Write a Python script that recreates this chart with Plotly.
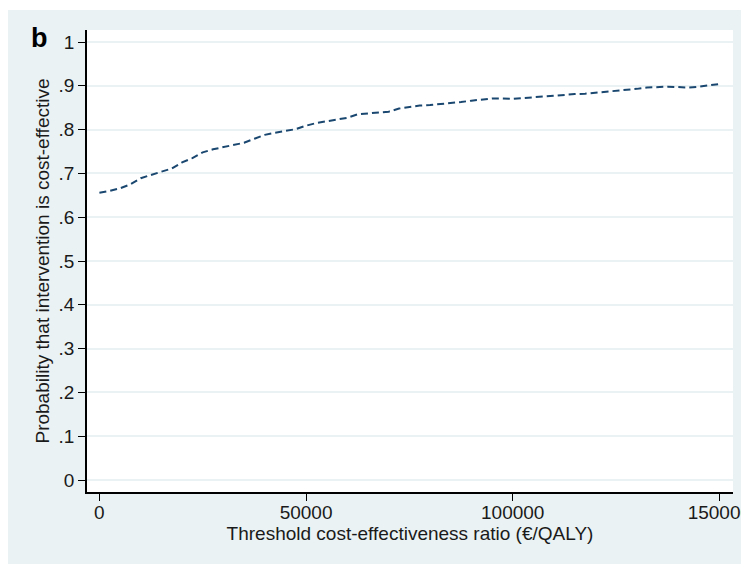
import plotly.graph_objects as go

threshold = [0, 2500, 5000, 7500, 10000, 12500, 15000, 17500, 20000, 22500, 25000, 27500,
             30000, 32500, 35000, 37500, 40000, 42500, 45000, 47500, 50000, 52500, 55000,
             57500, 60000, 62500, 65000, 67500, 70000, 72500, 75000, 77500, 80000, 82500,
             85000, 87500, 90000, 92500, 95000, 97500, 100000, 102500, 105000, 107500,
             110000, 112500, 115000, 117500, 120000, 122500, 125000, 127500, 130000,
             132500, 135000, 137500, 140000, 142500, 145000, 147500, 150000]
prob = [0.656, 0.660, 0.666, 0.675, 0.689, 0.697, 0.704, 0.711, 0.725, 0.735, 0.748, 0.755,
        0.760, 0.764, 0.770, 0.779, 0.788, 0.793, 0.797, 0.801, 0.809, 0.815, 0.819,
        0.823, 0.827, 0.835, 0.837, 0.839, 0.841, 0.848, 0.852, 0.855, 0.856, 0.858,
        0.860, 0.863, 0.866, 0.869, 0.871, 0.871, 0.870, 0.872, 0.874, 0.875,
        0.877, 0.880, 0.881, 0.882, 0.884, 0.887, 0.889, 0.891, 0.893,
        0.896, 0.897, 0.898, 0.897, 0.896, 0.898, 0.901, 0.904]

y_tickvals = [0, 0.1, 0.2, 0.3, 0.4, 0.5, 0.6, 0.7, 0.8, 0.9, 1.0]
y_ticktext = ["0", ".1", ".2", ".3", ".4", ".5", ".6", ".7", ".8", ".9", "1"]
x_tickvals = [0, 50000, 100000, 150000]
x_ticktext = ["0", "50000", "100000", "150000"]

FONT = "Liberation Sans, Arial, sans-serif"
BG = "#EAF2F3"

fig = go.Figure()
fig.add_trace(go.Scatter(
    x=threshold, y=prob, mode="lines",
    line=dict(color="#1a476f", width=2, dash="7px,4px"),
    showlegend=False, hoverinfo="skip",
))

W, H = 760, 556
L, R, T, B = 79, 35, 22, 72
pw, ph = W - L - R, H - T - B

def px(xf):
    return (xf - L) / pw

def py(yf):
    return (H - B - yf) / ph

# thin white strip along the top edge
fig.add_shape(type="rect", xref="paper", yref="paper", layer="below",
              x0=px(-2), x1=px(W + 2), y0=py(2), y1=py(-2),
              fillcolor="white", line=dict(width=0))

fig.add_annotation(text="<b>b</b>", xref="paper", yref="paper",
                   x=px(31), y=py(30),
                   xanchor="center", yanchor="middle", showarrow=False,
                   font=dict(family=FONT, size=27, color="black"))

fig.update_layout(
    width=W, height=H,
    margin=dict(l=L, r=R, t=T, b=B, autoexpand=False),
    paper_bgcolor=BG, plot_bgcolor="white",
    font=dict(family=FONT, size=19, color="#1a1a1a"),
    xaxis=dict(
        range=[-3000, 153300], tickvals=x_tickvals, ticktext=x_ticktext,
        ticks="outside", ticklen=7, tickcolor="black", tickwidth=1,
        showline=True, linecolor="black", linewidth=1.5,
        showgrid=False, zeroline=False, ticklabeloverflow="allow",
        ticklabelstandoff=-5, automargin=False,
        title=dict(text="Threshold cost-effectiveness ratio (€/QALY)",
                   font=dict(size=19), standoff=0),
        tickfont=dict(size=19),
    ),
    yaxis=dict(
        range=[-0.0274, 1.0274], tickvals=y_tickvals, ticktext=y_ticktext,
        ticks="outside", ticklen=7, tickcolor="black", tickwidth=1,
        showline=True, linecolor="black", linewidth=1.5,
        showgrid=True, gridcolor=BG, gridwidth=1.5, zeroline=False,
        automargin=False,
        title=dict(text="Probability that intervention is cost-effective",
                   font=dict(size=19), standoff=4),
        tickfont=dict(size=19),
    ),
)

fig.write_html(
    "out.html",
    post_script=("document.documentElement.style.overflow='hidden';"
                 "document.body.style.overflow='hidden';"),
)
